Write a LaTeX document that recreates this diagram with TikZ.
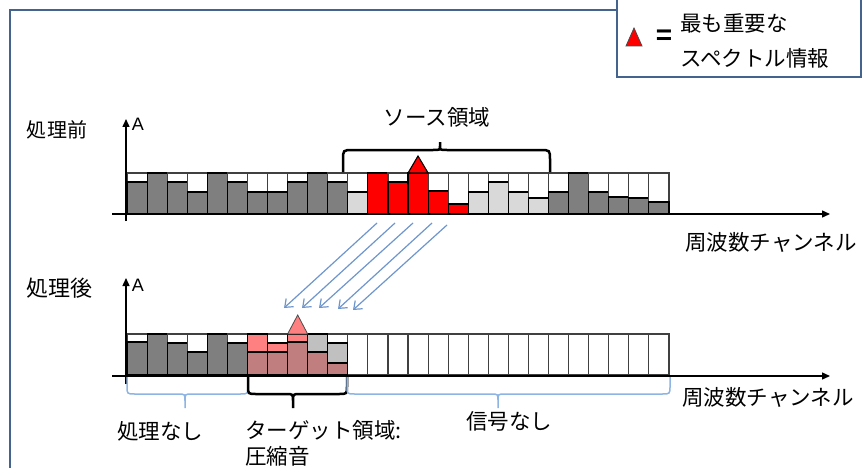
\documentclass[tikz,border=0pt]{standalone}
\usepackage{fontspec}
\setmainfont{Noto Sans CJK JP}
\newfontfamily\latinsans{Liberation Sans}
\usetikzlibrary{arrows.meta}
\definecolor{frameblue}{RGB}{68,100,142}
\definecolor{dgray}{RGB}{127,127,127}
\definecolor{lgray}{RGB}{217,217,217}
\definecolor{mgray}{RGB}{192,192,192}
\definecolor{pinkr}{RGB}{255,128,128}
\definecolor{rose}{RGB}{192,126,126}
\definecolor{arrowblue}{RGB}{110,150,205}
\definecolor{braceblue}{RGB}{141,180,226}
\newcommand\mydownbrace[4]{%
  \draw[#4] (#1,377) -- (#1,386) .. controls (#1,394) .. ({#1+8},394) -- ({#3-7},394)
    .. controls (#3,394) .. (#3,401) -- (#3,408) -- (#3,401) .. controls (#3,394) .. ({#3+7},394)
    -- ({#2-8},394) .. controls (#2,394) .. (#2,386) -- (#2,377);}
\begin{document}
\begin{tikzpicture}[x=1pt,y=-1pt,
  txt/.style={inner sep=0pt,font=\fontsize{21.5}{24}\selectfont},
  slot/.style={draw=black!75,line width=1.1pt,fill=white},
  bar/.style={draw=black,line width=1.1pt},
  frame/.style={draw=frameblue,line width=2pt},
  axis/.style={line width=1.4pt,-{Triangle[length=8pt,width=7pt]}},
  movearrow/.style={draw=arrowblue,line width=1.2pt,-{Straight Barb[length=7pt,width=11pt]}},
  bluebrace/.style={draw=braceblue,line width=1.5pt},
  blackbrace/.style={draw=black,line width=2.5pt}]
\useasboundingbox (0,0) rectangle (864,468);
\def\bw{20.074}
% outer frame
\draw[frame] (10,470) -- (10,10) -- (620,10);
% legend
\draw[frame,fill=white] (617,-5) rectangle (861,77);
\draw[fill=red,draw=black!70,line width=0.8pt] (626,46) -- (634,28) -- (642,46) -- cycle;
\node[inner sep=0pt,font=\latinsans\bfseries\fontsize{28}{30}\selectfont] (eq) at (664,37) {=};
\node[txt,anchor=west] (leg1) at (680,23) {最も重要な};
\node[txt,anchor=west] (leg2) at (680,58) {スペクトル情報};
% labels
\node[txt,font=\fontsize{20}{24}\selectfont] (before) at (57,130) {処理前};
\node[txt,font=\fontsize{22}{24}\selectfont] (after) at (59,288) {処理後};
\node[inner sep=0pt,font=\latinsans\fontsize{18}{20}\selectfont] (A1) at (138,124) {A};
\node[inner sep=0pt,font=\latinsans\fontsize{18}{20}\selectfont] (A2) at (138,285) {A};
\node[txt] (src) at (437,117) {ソース領域};
\node[txt,anchor=west] (f1) at (685,242) {周波数チャンネル};
\node[txt,anchor=west] (f2) at (682,397) {周波数チャンネル};
\node[txt,anchor=west] (none1) at (117,431) {処理なし};
\node[txt,anchor=west] (tgt) at (245,430) {ターゲット領域:};
\node[txt,anchor=west] (comp) at (245,456) {圧縮音};
\node[txt,anchor=west] (none2) at (466,421) {信号なし};
% top row bars
\foreach \i/\h/\c in {1/9/dgray,2/0/dgray,3/9/dgray,4/19/dgray,5/0/dgray,6/9/dgray,7/19/dgray,8/19/dgray,9/9/dgray,10/0/dgray,11/9/dgray,12/19/lgray,13/0/red,14/9/red,15/0/red,16/18/red,17/31/red,18/19/lgray,19/9/lgray,20/19/lgray,21/25/lgray,22/19/dgray,23/0/dgray,24/19/dgray,25/24/dgray,26/25/dgray,27/29/dgray}{
  \draw[slot] ({127+(\i-1)*\bw},173) rectangle ({127+\i*\bw},214);
  \draw[bar,fill=\c] ({127+(\i-1)*\bw},{173+\h}) rectangle ({127+\i*\bw},214);
}
\draw[bar,fill=red] ({127+14*\bw},173) -- (418,156) -- ({127+15*\bw},173) -- cycle;
% bottom row bars
\foreach \i/\h in {1/8,2/0,3/9,4/18,5/0,6/9}{
  \draw[slot] ({127+(\i-1)*\bw},334) rectangle ({127+\i*\bw},375);
  \draw[bar,fill=dgray] ({127+(\i-1)*\bw},{334+\h}) rectangle ({127+\i*\bw},375);
}
\foreach \i in {7,...,27}{
  \draw[slot] ({127+(\i-1)*\bw},334) rectangle ({127+\i*\bw},375);
}
% target region (compressed)
\draw[bar,fill=pinkr] ({127+6*\bw},334) rectangle ({127+7*\bw},352);
\draw[bar,fill=rose] ({127+6*\bw},352) rectangle ({127+7*\bw},375);
\draw[bar,fill=pinkr] ({127+7*\bw},343) rectangle ({127+8*\bw},352);
\draw[bar,fill=rose] ({127+7*\bw},352) rectangle ({127+8*\bw},375);
\draw[bar,fill=pinkr] ({127+8*\bw},334) rectangle ({127+9*\bw},342);
\draw[bar,fill=rose] ({127+8*\bw},342) rectangle ({127+9*\bw},375);
\draw[bar,fill=mgray] ({127+9*\bw},334) rectangle ({127+10*\bw},352);
\draw[bar,fill=rose] ({127+9*\bw},352) rectangle ({127+10*\bw},375);
\draw[bar,fill=mgray] ({127+10*\bw},343) rectangle ({127+11*\bw},363);
\draw[bar,fill=rose] ({127+10*\bw},363) rectangle ({127+11*\bw},375);
\draw[draw=black!70,line width=0.8pt,fill=pinkr] ({127+8*\bw},334) -- (297.7,315) -- ({127+9*\bw},334) -- cycle;
% axes
\coordinate (x1s) at (112,214); \coordinate (x1e) at (830,214);
\coordinate (y1s) at (126,221); \coordinate (y1e) at (126,119);
\coordinate (x2s) at (112,376); \coordinate (x2e) at (830,376);
\coordinate (y2s) at (126,384); \coordinate (y2e) at (126,278);
\draw[axis] (x1s) -- (x1e);
\draw[axis] (y1s) -- (y1e);
\draw[axis] (x2s) -- (x2e);
\draw[axis] (y2s) -- (y2e);
% move arrows
\foreach \k/\sx/\sy/\tx/\ty in {1/377/223/284/308,2/395/223/302/308,3/413/223/319/308,4/432/223/338/309,5/447/225/353/310}{
  \coordinate (s\k) at (\sx,\sy);
  \coordinate (t\k) at (\tx,\ty);
  \draw[movearrow] (s\k) -- (t\k);
}
% source brace (top)
\draw[blackbrace] (343,172) -- (343,160) .. controls (343,150) .. (353,150) -- (433,150)
  .. controls (440,150) .. (440,146) -- (440,142) -- (440,146) .. controls (440,150) .. (447,150)
  -- (540,150) .. controls (550,150) .. (550,160) -- (550,172);
% bottom braces
\mydownbrace{127}{248}{185}{bluebrace}
\mydownbrace{248}{347}{293}{blackbrace}
\mydownbrace{347}{670}{498}{bluebrace}
\end{tikzpicture}
\end{document}
